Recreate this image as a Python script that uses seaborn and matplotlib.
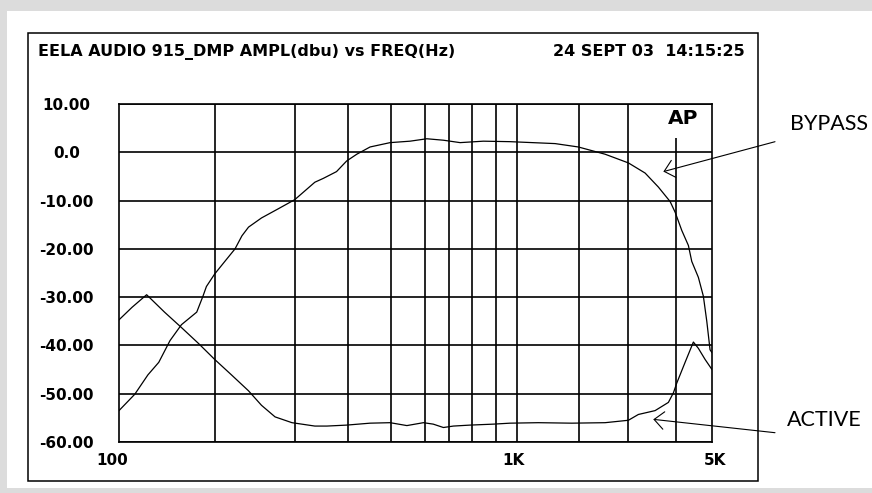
import matplotlib
matplotlib.use("Agg")
import matplotlib.pyplot as plt
import matplotlib.transforms as mtransforms
from matplotlib.patches import Rectangle
import seaborn as sns
import pandas as pd

# ---------------- data ----------------
title = "EELA AUDIO 915_DMP AMPL(dbu) vs FREQ(Hz)"
timestamp = "24 SEPT 03  14:15:25"

bypass_freq = [100, 111, 121, 130, 140, 151, 167, 174, 178, 188, 201, 215, 225, 235,
               256, 286, 319, 364, 385, 420, 449, 480, 524, 598, 682, 762, 850, 949,
               1106, 1319, 1776, 2070, 2470, 2880, 3216, 3510, 3793, 3920, 4097, 4279,
               4375, 4570, 4723, 4831, 4936, 5000]
bypass_db = [-53.5, -50.1, -46.1, -43.5, -39.0, -35.7, -33.1, -29.8, -27.8, -25.2, -22.6,
             -20.0, -17.3, -15.5, -13.6, -11.7, -9.8, -6.2, -5.4, -4.0, -1.8, -0.4, 1.1,
             2.0, 2.3, 2.8, 2.5, 2.0, 2.3, 2.2, 1.8, 1.1, -0.4, -2.2, -4.3, -7.2, -10.2,
             -12.4, -16.2, -19.3, -22.6, -25.9, -29.8, -35.0, -40.9, -41.5]

active_freq = [100, 109, 120, 135, 151, 169, 188, 210, 235, 256, 280, 313, 364, 394, 449,
               524, 598, 668, 745, 795, 850, 908, 1013, 1182, 1319, 1590, 1982, 2470,
               2880, 3076, 3435, 3750, 3877, 3963, 4187, 4422, 4570, 4777, 5000]
active_db = [-34.7, -32.1, -29.5, -33.1, -36.3, -39.6, -42.9, -46.1, -49.4, -52.4, -54.8,
             -56.0, -56.7, -56.7, -56.5, -56.1, -56.0, -56.6, -56.0, -56.3, -57.0, -56.7,
             -56.5, -56.3, -56.1, -56.0, -56.1, -56.0, -55.5, -54.3, -53.5, -51.8, -49.8,
             -47.8, -43.5, -39.3, -40.6, -42.9, -45.0]

y_ticks = [10, 0, -10, -20, -30, -40, -50, -60]
y_ticklabels = ["10.00", "0.0", "-10.00", "-20.00", "-30.00", "-40.00", "-50.00", "-60.00"]
x_ticks = [100, 1000, 5000]
x_ticklabels = ["100", "1K", "5K"]
x_grid_freqs = [188, 319, 452, 602, 755, 884, 1029, 1201, 1385, 2080, 2880]
ap_freq = 3953
ap_line_top = 3.0

# ---------------- style ----------------
sns.set_theme(style="white")
plt.rcParams["font.family"] = ["DejaVu Sans"]
plt.rcParams.update({"text.color": "black", "xtick.color": "black",
                     "ytick.color": "black", "axes.labelcolor": "black"})

W, H = 872, 493
fig = plt.figure(figsize=(W / 100, H / 100), dpi=100, facecolor="#dcdcdc")

# white panel and black frame (behind the axes)
fig.patches.append(Rectangle((7 / W, 5 / H), 1 - 7 / W, 477 / H, transform=fig.transFigure,
                             facecolor="white", edgecolor="none", zorder=-10))
fig.patches.append(Rectangle((28.3 / W, 12 / H), 729.4 / W, 447.7 / H, transform=fig.transFigure,
                             facecolor="none", edgecolor="black", lw=1.1, zorder=-9))

ax = fig.add_axes([119 / W, 51 / H, 593 / W, 338 / H])
ax.set_facecolor("white")
ax.set_zorder(1)

df = pd.concat([
    pd.DataFrame({"freq": bypass_freq, "db": bypass_db, "series": "BYPASS"}),
    pd.DataFrame({"freq": active_freq, "db": active_db, "series": "ACTIVE"}),
])
sns.lineplot(data=df, x="freq", y="db", hue="series",
             palette={"BYPASS": "black", "ACTIVE": "black"},
             estimator=None, lw=0.9, legend=False, ax=ax, zorder=3)

ax.set_xscale("log")
ax.set_xlim(100, 5000)
ax.set_ylim(-60, 10)
ax.set_xlabel("")
ax.set_ylabel("")

ax.set_yticks(y_ticks)
ax.set_yticklabels(y_ticklabels)
ax.set_xticks(x_ticks)
ax.set_xticklabels(x_ticklabels)
ax.set_xticks(x_grid_freqs, minor=True)
ax.xaxis.set_minor_formatter(matplotlib.ticker.NullFormatter())

ax.tick_params(axis="both", which="both", length=0)
ax.tick_params(axis="y", pad=38, labelsize=11)
ax.tick_params(axis="x", pad=8, labelsize=11)

ax.grid(False)
ax.grid(True, which="minor", axis="x", color="black", lw=1.2)
ax.grid(True, which="major", axis="y", color="black", lw=1.2)
ax.set_axisbelow(True)

for s in ax.spines.values():
    s.set_color("black")
    s.set_linewidth(1.2)
    s.set_visible(True)

for lbl in ax.get_yticklabels():
    lbl.set_fontweight("bold")
    lbl.set_horizontalalignment("center")

x_offsets_px = [-7, 45, 3]
for tick, dx in zip(ax.xaxis.get_major_ticks(), x_offsets_px):
    tick.label1.set_fontweight("bold")
    tick.label1.set_transform(tick.label1.get_transform() +
                              mtransforms.ScaledTranslation(dx / 100, 0, fig.dpi_scale_trans))

# AP marker
ax.vlines(ap_freq, -60, ap_line_top, color="black", lw=1.2, zorder=3)
ax.text(0.951, 0.957, "AP", transform=ax.transAxes, ha="center", va="center",
        fontsize=14.5, fontweight="bold", color="black")

# header texts
fig.text(38 / W, 1 - 52.5 / H, title, ha="left", va="center", fontsize=11.5,
         fontweight="bold", color="black")
fig.text(745 / W, 1 - 51 / H, timestamp, ha="right", va="center", fontsize=11.5,
         fontweight="bold", color="black")

# callouts
arrow_kw = dict(arrowstyle="->,head_length=0.5,head_width=0.45", color="black", lw=0.8,
                shrinkA=0, shrinkB=0, mutation_scale=14)
ax.annotate("", xy=(0.918, 0.80), xycoords="axes fraction",
            xytext=(775 / W, 1 - 141.7 / H), textcoords="figure fraction",
            arrowprops=arrow_kw, annotation_clip=False)
ax.annotate("", xy=(0.901, 0.067), xycoords="axes fraction",
            xytext=(775 / W, 1 - 432.7 / H), textcoords="figure fraction",
            arrowprops=arrow_kw, annotation_clip=False)
fig.text(790 / W, 1 - 124 / H, "BYPASS", ha="left", va="center", fontsize=15.5,
         family=["Lato", "DejaVu Sans"], fontweight="normal", color="black")
fig.text(787 / W, 1 - 420 / H, "ACTIVE", ha="left", va="center", fontsize=15.5,
         family=["Lato", "DejaVu Sans"], fontweight="normal", color="black")

fig.savefig("out.png", dpi=100, facecolor=fig.get_facecolor())
